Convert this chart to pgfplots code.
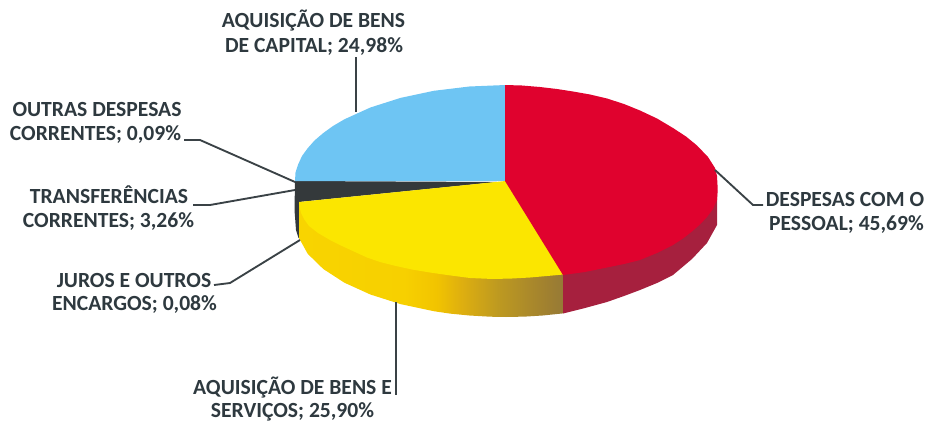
\documentclass[border=0pt]{standalone}
\usepackage{fontspec}
\setmainfont{Carlito}
\usepackage{pgfplots}
\pgfplotsset{compat=1.18}
\definecolor{cblue}{HTML}{6EC5F3}
\definecolor{cred}{HTML}{E0022E}
\definecolor{credw}{HTML}{A6203E}
\definecolor{cyel}{HTML}{FBE600}
\definecolor{cdark}{HTML}{34393B}
\definecolor{ctxt}{HTML}{2E393F}
\definecolor{cline}{HTML}{3A4246}
\definecolor{ga}{HTML}{F8D400}
\definecolor{gb}{HTML}{F7D000}
\definecolor{gc}{HTML}{F2C400}
\definecolor{gd}{HTML}{DDAE10}
\definecolor{ge}{HTML}{BE9A20}
\definecolor{gf}{HTML}{A08030}
\definecolor{gg}{HTML}{967A36}
\pgfdeclarehorizontalshading{wallgrad}{100bp}{
  color(0bp)=(ga);
  color(25bp)=(ga);
  color(45bp)=(gb);
  color(51bp)=(gc);
  color(56bp)=(gd);
  color(62.5bp)=(ge);
  color(72bp)=(gf);
  color(75bp)=(gg);
  color(100bp)=(gg)}
\newcommand\lab[3]{\node[font=\fontsize{16.2}{18}\selectfont\bfseries,text=ctxt,anchor=base,inner sep=0pt] at (axis cs:#1,#2) {#3};}
\begin{document}
\begin{tikzpicture}
\useasboundingbox (0,0) rectangle (696pt,315.75pt);
\clip (0,0) rectangle (696pt,315.75pt);
\begin{axis}[at={(0,0)},anchor=south west,scale only axis,width=696pt,height=315.75pt,
  xmin=0,xmax=928,ymin=0,ymax=421,y dir=reverse,axis lines=none,clip=false,
  every axis plot/.append style={no markers,forget plot}]
% dark wall and wedge
\addplot[fill=cdark,draw=none] coordinates {(295,181) (497,182) (299,202) (300,238) (298.5,238) (296,230) (294.5,210)};
% yellow wall, shaded toward the red
\addplot[shading=wallgrad,draw=none] coordinates {(299,202) (299,238) (307.7,253.8) (323.3,269) (344.4,282.7) (370.4,294.5) (400.5,304.1) (433.8,311.2) (450,313.6) (469.4,315.5) (490,316.7) (506,317) (525,316.6) (542.6,315.5) (563,313.4) (563,262) (380,250) (330,225)};
% red wall
\addplot[fill=credw,draw=none] coordinates {(563,262) (717,190) (717,225) (707,243) (692,259) (673,275) (657,283) (640,290) (624,296) (607,302) (585,308) (563,313.5)};
% blue top
\addplot[fill=cblue,draw=none] coordinates {(505.5,181) (505.5,85) (469.4,86.5) (433.8,90.8) (400.5,97.9) (370.4,107.5) (344.4,119.3) (333,126) (323.3,133) (314.5,140.5) (307.7,148.2) (302,156) (298.2,164.3) (295.5,172.5) (295,181)};
% yellow top
\addplot[fill=cyel,draw=none] coordinates {(505.5,181) (299,202) (299.5,207) (301,213) (304,219) (309,226) (318,233) (330,240) (342,246) (355,252) (367,257.5) (380,262) (396,266) (412,269.5) (430,272.5) (447,275) (470,278) (493,279) (512,278.5) (530,277.5) (547,276) (563.5,274.5)};
% red top
\addplot[fill=cred,draw=none] coordinates {(505,181) (505,85) (522,85.5) (540,87) (557,89) (573,91.5) (590,94.5) (607,98.5) (624,104) (640,110.5) (657,118.5) (673,128) (686,136.5) (697,145.5) (708,157) (715,168) (717,176) (717.5,185) (717.5,193) (717,200) (713,209) (707,217) (700,224.5) (692,231.5) (683,238.5) (673,245) (657,253) (640,260) (624,264) (607,267.5) (585,272) (563,275)};
% leader lines
\addplot[draw=cline,line width=1.4pt] coordinates {(356,112) (356,57)};
\addplot[draw=cline,line width=1.4pt] coordinates {(184,140) (200,140) (295,182)};
\addplot[draw=cline,line width=1.4pt] coordinates {(193,205) (210,205) (295,190)};
\addplot[draw=cline,line width=1.4pt] coordinates {(214,285) (230,283) (300,240)};
\addplot[draw=cline,line width=1.4pt] coordinates {(396,302) (396,395)};
\addplot[draw=cline,line width=1.4pt] coordinates {(715,170) (753,205) (763,205)};
% labels
\lab{313.5}{27}{AQUISIÇÃO DE BENS}
\lab{314}{52}{DE CAPITAL; 24,98\%}
\lab{97}{116}{OUTRAS DESPESAS}
\lab{95.5}{140}{CORRENTES; 0,09\%}
\lab{109}{203}{TRANSFERÊNCIAS}
\lab{108.5}{227}{CORRENTES; 3,26\%}
\lab{134}{287}{JUROS E OUTROS}
\lab{134.5}{310}{ENCARGOS; 0,08\%}
\lab{292.5}{394}{AQUISIÇÃO DE BENS E}
\lab{292.5}{417}{SERVIÇOS; 25,90\%}
\lab{845}{206}{DESPESAS COM O}
\lab{846.5}{230}{PESSOAL; 45,69\%}
\end{axis}
\end{tikzpicture}
\end{document}
